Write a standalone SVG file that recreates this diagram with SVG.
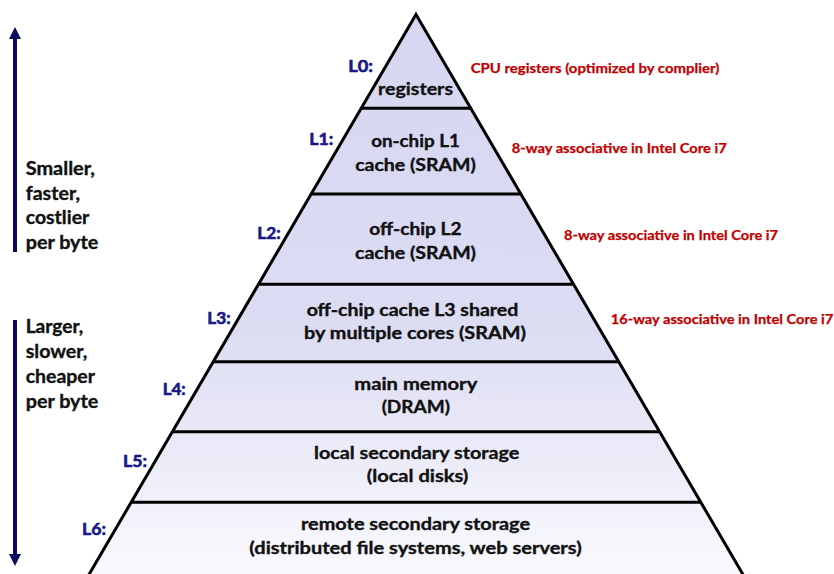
<svg xmlns="http://www.w3.org/2000/svg" width="834" height="574" viewBox="0 0 834 574">
  <defs>
    <linearGradient id="pyr" x1="0" y1="0" x2="0" y2="1">
      <stop offset="0" stop-color="#D6D6F2"/>
      <stop offset="0.55" stop-color="#DCDCF3"/>
      <stop offset="1" stop-color="#FAFAFE"/>
    </linearGradient>
    <marker id="ah" viewBox="0 0 12 12" refX="6" refY="6" markerWidth="3" markerHeight="3" orient="auto" markerUnits="strokeWidth">
      <path d="M0,0 L12,6 L0,12 z" fill="#0A0A5E"/>
    </marker>
  </defs>
  <style>
    .t { font-family: Lato, "Liberation Sans", sans-serif; font-weight: bold; stroke-width: 0.35px; }
    .c { font-size: 16.5px; fill: #111111; stroke: #111111; text-anchor: middle; }
    .lv { font-size: 16.3px; fill: #18188A; stroke: #18188A; stroke-width: 0.6px; }
    .note { font-size: 13.5px; fill: #C00000; stroke: #C00000; stroke-width: 0.25px; }
    .side { font-size: 18px; fill: #111111; stroke: #111111; }
    .div { stroke: #000000; stroke-width: 3; }
    .arr { stroke: #0A0A5E; stroke-width: 4; fill: none; }
  </style>
  <rect width="834" height="574" fill="#FFFFFF"/>

  <g id="pyramid">
    <polygon points="416,14.5 746.2,580 85.8,580" fill="url(#pyr)" stroke="#000000" stroke-width="3" stroke-linejoin="miter"/>
  </g>

  <g id="connectors">
    <line class="div" x1="361.6" y1="108.3" x2="470.4" y2="108.3"/>
    <line class="div" x1="311.4" y1="194" x2="520.6" y2="194"/>
    <line class="div" x1="258.7" y1="284.3" x2="573.3" y2="284.3"/>
    <line class="div" x1="213.5" y1="361.7" x2="618.5" y2="361.7"/>
    <line class="div" x1="172.6" y1="431.7" x2="659.4" y2="431.7"/>
    <line class="div" x1="131.4" y1="502.3" x2="700.6" y2="502.3"/>
    <line class="arr" x1="15" y1="252" x2="15" y2="33" marker-end="url(#ah)"/>
    <line class="arr" x1="15" y1="320" x2="15" y2="560" marker-end="url(#ah)"/>
  </g>

  <g id="L0">
    <text class="t lv" x="348.3" y="71.7" textLength="24.7" lengthAdjust="spacingAndGlyphs">L0:</text>
    <text class="t c" x="415.5" y="95" textLength="75" lengthAdjust="spacingAndGlyphs">registers</text>
    <text class="t note" x="470.7" y="73" textLength="248.6" lengthAdjust="spacingAndGlyphs">CPU registers (optimized by complier)</text>
  </g>
  <g id="L1">
    <text class="t lv" x="309.3" y="145" textLength="24" lengthAdjust="spacingAndGlyphs">L1:</text>
    <text class="t c" x="415.5" y="147" textLength="88.7" lengthAdjust="spacingAndGlyphs">on-chip L1</text>
    <text class="t c" x="415.5" y="171" textLength="120.7" lengthAdjust="spacingAndGlyphs">cache (SRAM)</text>
    <text class="t note" x="511.7" y="153" textLength="215" lengthAdjust="spacingAndGlyphs">8-way associative in Intel Core i7</text>
  </g>
  <g id="L2">
    <text class="t lv" x="257.3" y="239" textLength="23.4" lengthAdjust="spacingAndGlyphs">L2:</text>
    <text class="t c" x="415.5" y="235" textLength="92.3" lengthAdjust="spacingAndGlyphs">off-chip L2</text>
    <text class="t c" x="415.5" y="259.3" textLength="121" lengthAdjust="spacingAndGlyphs">cache (SRAM)</text>
    <text class="t note" x="564" y="240" textLength="214" lengthAdjust="spacingAndGlyphs">8-way associative in Intel Core i7</text>
  </g>
  <g id="L3">
    <text class="t lv" x="207.3" y="324" textLength="23.4" lengthAdjust="spacingAndGlyphs">L3:</text>
    <text class="t c" x="412.5" y="316" textLength="211.7" lengthAdjust="spacingAndGlyphs">off-chip cache L3 shared</text>
    <text class="t c" x="415" y="339.3" textLength="222" lengthAdjust="spacingAndGlyphs">by multiple cores (SRAM)</text>
    <text class="t note" x="610.7" y="324" textLength="222.6" lengthAdjust="spacingAndGlyphs">16-way associative in Intel Core i7</text>
  </g>
  <g id="L4">
    <text class="t lv" x="162.7" y="395" textLength="23" lengthAdjust="spacingAndGlyphs">L4:</text>
    <text class="t c" x="415.8" y="390" textLength="123" lengthAdjust="spacingAndGlyphs">main memory</text>
    <text class="t c" x="415.8" y="413.3" textLength="68.3" lengthAdjust="spacingAndGlyphs">(DRAM)</text>
  </g>
  <g id="L5">
    <text class="t lv" x="123" y="466.5" textLength="24" lengthAdjust="spacingAndGlyphs">L5:</text>
    <text class="t c" x="416.7" y="458.5" textLength="205.3" lengthAdjust="spacingAndGlyphs">local secondary storage</text>
    <text class="t c" x="417.5" y="481.7" textLength="101.7" lengthAdjust="spacingAndGlyphs">(local disks)</text>
  </g>
  <g id="L6">
    <text class="t lv" x="82" y="535" textLength="24" lengthAdjust="spacingAndGlyphs">L6:</text>
    <text class="t c" x="415.5" y="530" textLength="229" lengthAdjust="spacingAndGlyphs">remote secondary storage</text>
    <text class="t c" x="415.5" y="554" textLength="332.3" lengthAdjust="spacingAndGlyphs">(distributed file systems, web servers)</text>
  </g>

  <g id="upper-note">
    <text class="t side" x="25.7" y="175" textLength="69.3" lengthAdjust="spacingAndGlyphs">Smaller,</text>
    <text class="t side" x="25.7" y="199.7" textLength="54.3" lengthAdjust="spacingAndGlyphs">faster,</text>
    <text class="t side" x="25.7" y="224.3" textLength="63.6" lengthAdjust="spacingAndGlyphs">costlier</text>
    <text class="t side" x="25.7" y="249" textLength="72.6" lengthAdjust="spacingAndGlyphs">per byte</text>
  </g>
  <g id="lower-note">
    <text class="t side" x="25.7" y="333.3" textLength="57.6" lengthAdjust="spacingAndGlyphs">Larger,</text>
    <text class="t side" x="25.7" y="358.3" textLength="61.6" lengthAdjust="spacingAndGlyphs">slower,</text>
    <text class="t side" x="25.7" y="383.3" textLength="69.3" lengthAdjust="spacingAndGlyphs">cheaper</text>
    <text class="t side" x="25.7" y="408.3" textLength="72.6" lengthAdjust="spacingAndGlyphs">per byte</text>
  </g>
</svg>
